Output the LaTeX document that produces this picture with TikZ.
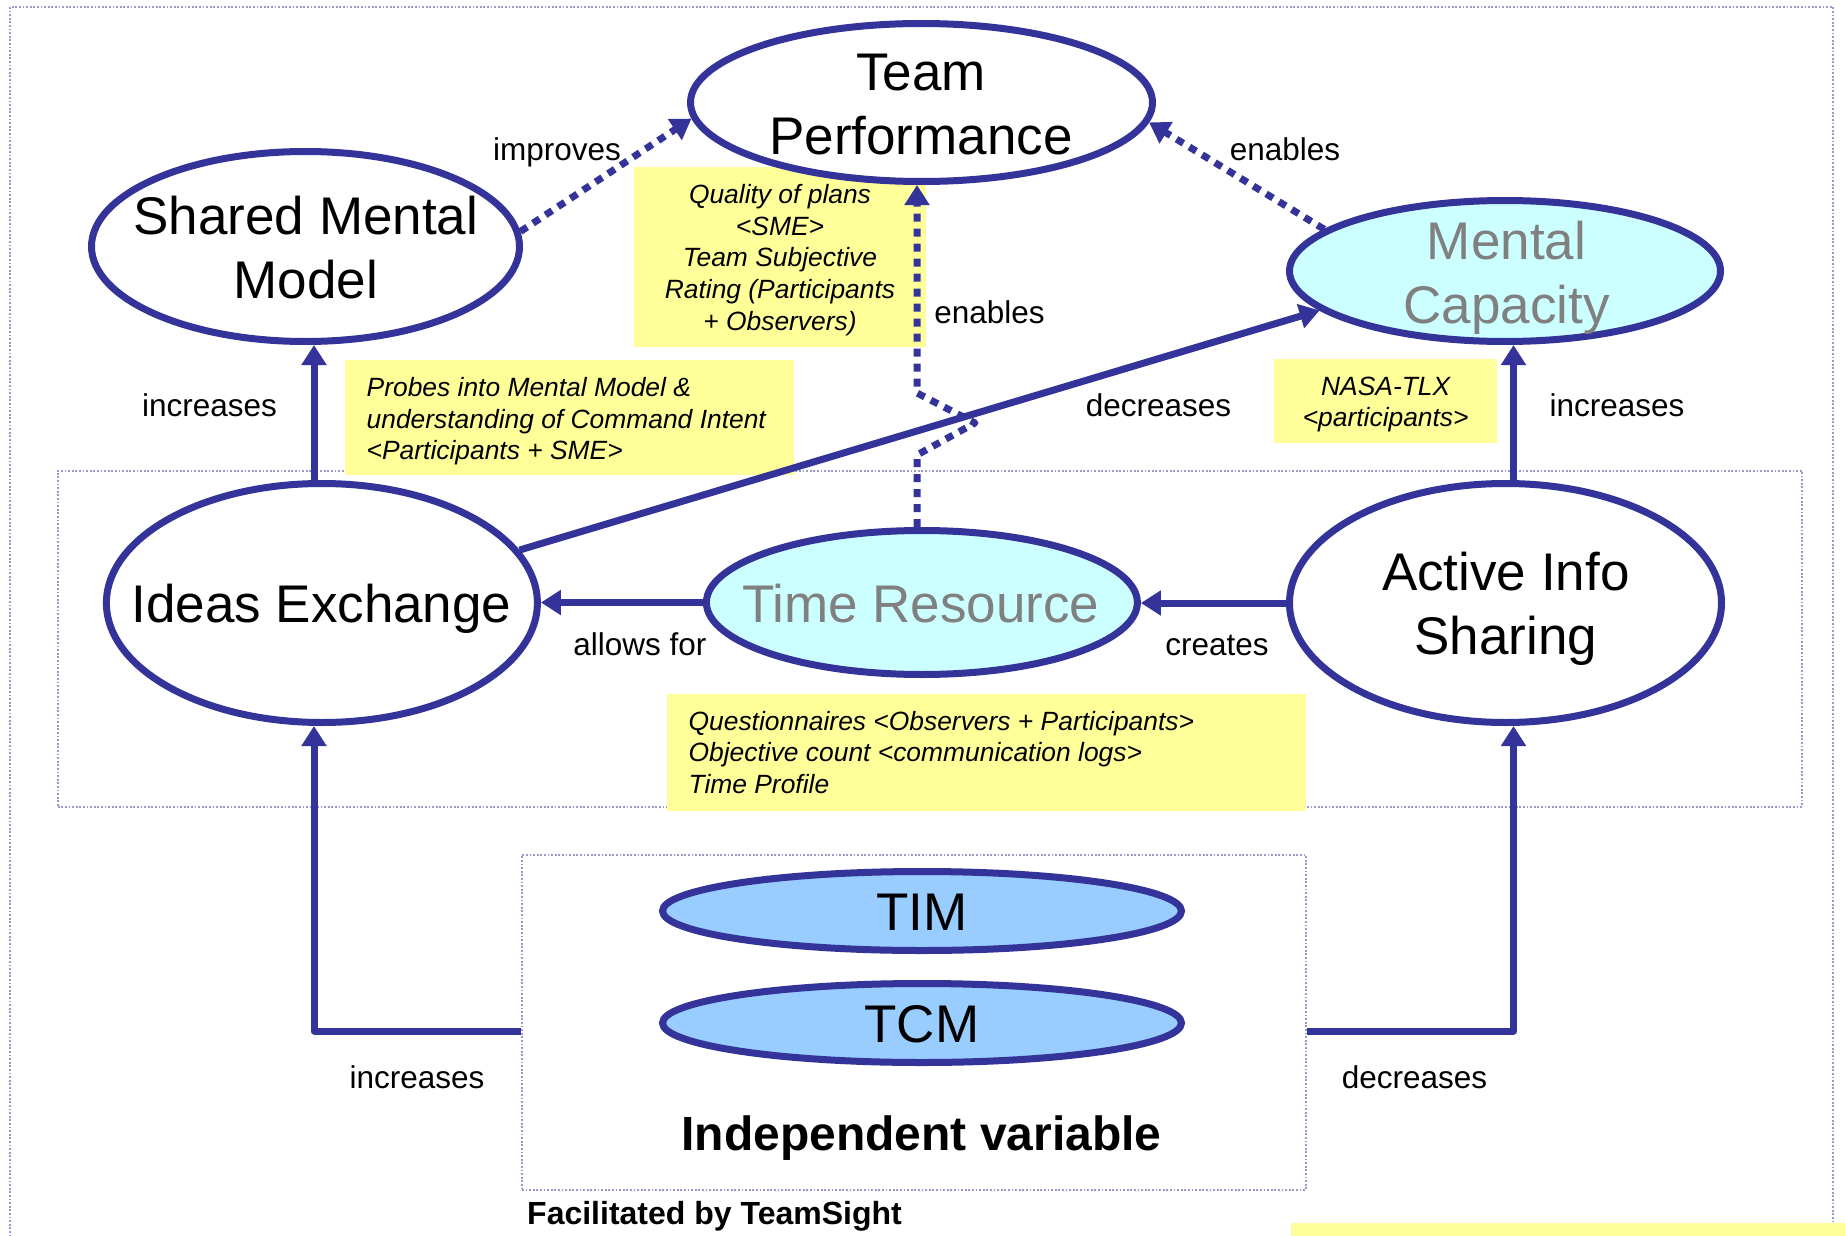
\documentclass[tikz,border=0pt]{standalone}
\usepackage{fontspec}
\setmainfont{Liberation Sans}
\usetikzlibrary{shapes.geometric,arrows.meta,calc}
\definecolor{lineblue}{HTML}{333399}
\definecolor{yellowfill}{HTML}{FFFF99}
\definecolor{cyanfill}{HTML}{CCFFFF}
\definecolor{timfill}{HTML}{99CCFF}
\definecolor{graytxt}{HTML}{808080}
\definecolor{bordcol}{HTML}{9999CC}
\tikzset{
  conn/.style={draw=lineblue, line width=7pt, line join=round},
  arr/.style={conn, -{Triangle[length=20pt,width=24pt]}},
  dotarr/.style={arr, dash pattern=on 8pt off 7pt},
  ell/.style={ellipse, draw=lineblue, line width=7pt, fill=white, inner sep=0pt},
  bigtxt/.style={font=\fontsize{53}{64}\selectfont, align=center, inner sep=0pt},
  lbl/.style={font=\fontsize{31.5}{37.8}\selectfont, inner sep=0pt},
  ybox/.style={fill=yellowfill, inner sep=0pt},
  ytxt/.style={font=\fontsize{26.4}{31.6}\selectfont\itshape, inner sep=0pt},
  bord/.style={draw=bordcol, line width=1.6pt, dash pattern=on 1.8pt off 1.8pt},
}
\begin{document}
\begin{tikzpicture}[x=1pt,y=-1pt]
\useasboundingbox (0,0) rectangle (1845,1236);
\fill[white] (0,0) rectangle (1845,1236);

% dotted frames
\draw[bord] (10,1240) -- (10,7) -- (1833,7) -- (1833,1240);
\node[bord, minimum width=1744.3pt, minimum height=336pt, inner sep=0pt] (midbox) at (929.85,638.7) {};
\node[bord, minimum width=784pt, minimum height=335pt, inner sep=0pt] (indep) at (914,1022.5) {};
\fill[yellowfill] (1291,1223) rectangle (1845,1240);

% yellow measurement boxes
\node[ybox, minimum width=292pt, minimum height=180pt] (boxA) at (780,257) {};
\node[ybox, minimum width=449pt, minimum height=115pt] (boxB) at (569.5,417.5) {};
\node[ybox, minimum width=223.4pt, minimum height=83.7pt] (boxC) at (1385.7,400.9) {};
\node[ybox, minimum width=639pt, minimum height=116.7pt] (boxD) at (986.5,752.3) {};

% ellipses
\node[ell, minimum width=462pt, minimum height=158pt] (tp) at (921.5,102.5) {};
\node[ell, minimum width=428pt, minimum height=190pt] (smm) at (305.5,246.5) {};
\node[ell, fill=cyanfill, minimum width=431pt, minimum height=141pt] (mc) at (1505,271) {};
\node[ell, minimum width=431pt, minimum height=239pt] (ie) at (321.9,603) {};
\node[ell, fill=cyanfill, minimum width=431pt, minimum height=144pt] (tr) at (921.9,602.5) {};
\node[ell, minimum width=432pt, minimum height=239pt] (ais) at (1505.5,603) {};
\node[ell, fill=timfill, minimum width=519pt, minimum height=79pt] (tim) at (922,911) {};
\node[ell, fill=timfill, minimum width=519pt, minimum height=79pt] (tcm) at (922,1023) {};

% connectors
\coordinate (bendL) at (314,1031);
\coordinate (bendR) at (1513.5,1031);
\coordinate (j1) at (917,455);
\coordinate (j2) at (975,423);
\coordinate (j3) at (917,393);
\draw[arr] (ie.north -| bendL) -- (smm.south -| bendL);
\draw[arr] (indep.west |- bendL) -- (bendL) -- (ie.south -| bendL);
\draw[arr] (indep.east |- bendR) -- (bendR) -- (ais.south -| bendR);
\draw[arr] (ais.north -| bendR) -- (mc.south -| bendR);
\draw[arr] (ais.west) -- (tr.east |- ais.west);
\draw[arr] (tr.west) -- (ie.east |- tr.west);
\draw[arr] (ie.15) -- (mc.192);
\draw[dotarr] (smm.4) -- (tp.184);
\draw[dotarr] (mc.167) -- (tp.355);
\draw[dotarr] (tr.north -| j1) -- (j1) -- (j2) -- (j3) -- (tp.south -| j3);

% ellipse texts
\node[bigtxt] (tp-t) at (921,110.2) {\strut Team\\Performance\strut};
\node[bigtxt] (smm-t) at (305.8,253.7) {\strut Shared Mental\\Model\strut};
\node[bigtxt, text=graytxt] (mc-t) at (1506.5,278.2) {\strut Mental\\Capacity\strut};
\node[bigtxt] (ie-t) at (321.4,609.9) {\strut Ideas Exchange};
\node[bigtxt, text=graytxt] (tr-t) at (920.8,609.9) {\strut Time Resource};
\node[bigtxt] (ais-t) at (1505.8,609.5) {\strut Active Info\\Sharing\strut};
\node[bigtxt] (tim-t) at (922,917.9) {\strut TIM};
\node[bigtxt] (tcm-t) at (922,1029.9) {\strut TCM};
\node[font=\fontsize{48}{57.6}\selectfont\bfseries, inner sep=0pt] (indep-t) at (921.5,1139.2) {\strut Independent variable};
\node[font=\fontsize{32}{38.4}\selectfont\bfseries, inner sep=0pt, anchor=west] (fac-t) at (527,1217.3) {\strut Facilitated by TeamSight};

% connector labels
\node[lbl] (l-imp) at (557,153.4) {\strut improves};
\node[lbl] (l-en1) at (1285,153.4) {\strut enables};
\node[lbl] (l-en2) at (989.5,316.4) {\strut enables};
\node[lbl] (l-incL) at (209.5,409.4) {\strut increases};
\node[lbl] (l-decM) at (1158.5,409.4) {\strut decreases};
\node[lbl] (l-incR) at (1617,409.4) {\strut increases};
\node[lbl] (l-allow) at (640,648.4) {\strut allows for};
\node[lbl] (l-creates) at (1217,648.4) {\strut creates};
\node[lbl] (l-incB) at (417,1081.4) {\strut increases};
\node[lbl] (l-decB) at (1414.5,1081.4) {\strut decreases};

% yellow box texts
\node[ytxt, align=center] (boxA-t) at (780,260.5) {\strut Quality of plans\\<SME>\\Team Subjective\\Rating (Participants\\+ Observers)\strut};
\node[ytxt, align=left, anchor=west] (boxB-t) at (366.5,422) {\strut Probes into Mental Model \&\\understanding of Command Intent\\<Participants + SME>\strut};
\node[ytxt, align=center] (boxC-t) at (1385.7,404.7) {\strut NASA-TLX\\<participants>\strut};
\node[ytxt, align=left, anchor=west] (boxD-t) at (688.4,755.5) {\strut Questionnaires <Observers + Participants>\\Objective count <communication logs>\\Time Profile\strut};
\end{tikzpicture}
\end{document}
